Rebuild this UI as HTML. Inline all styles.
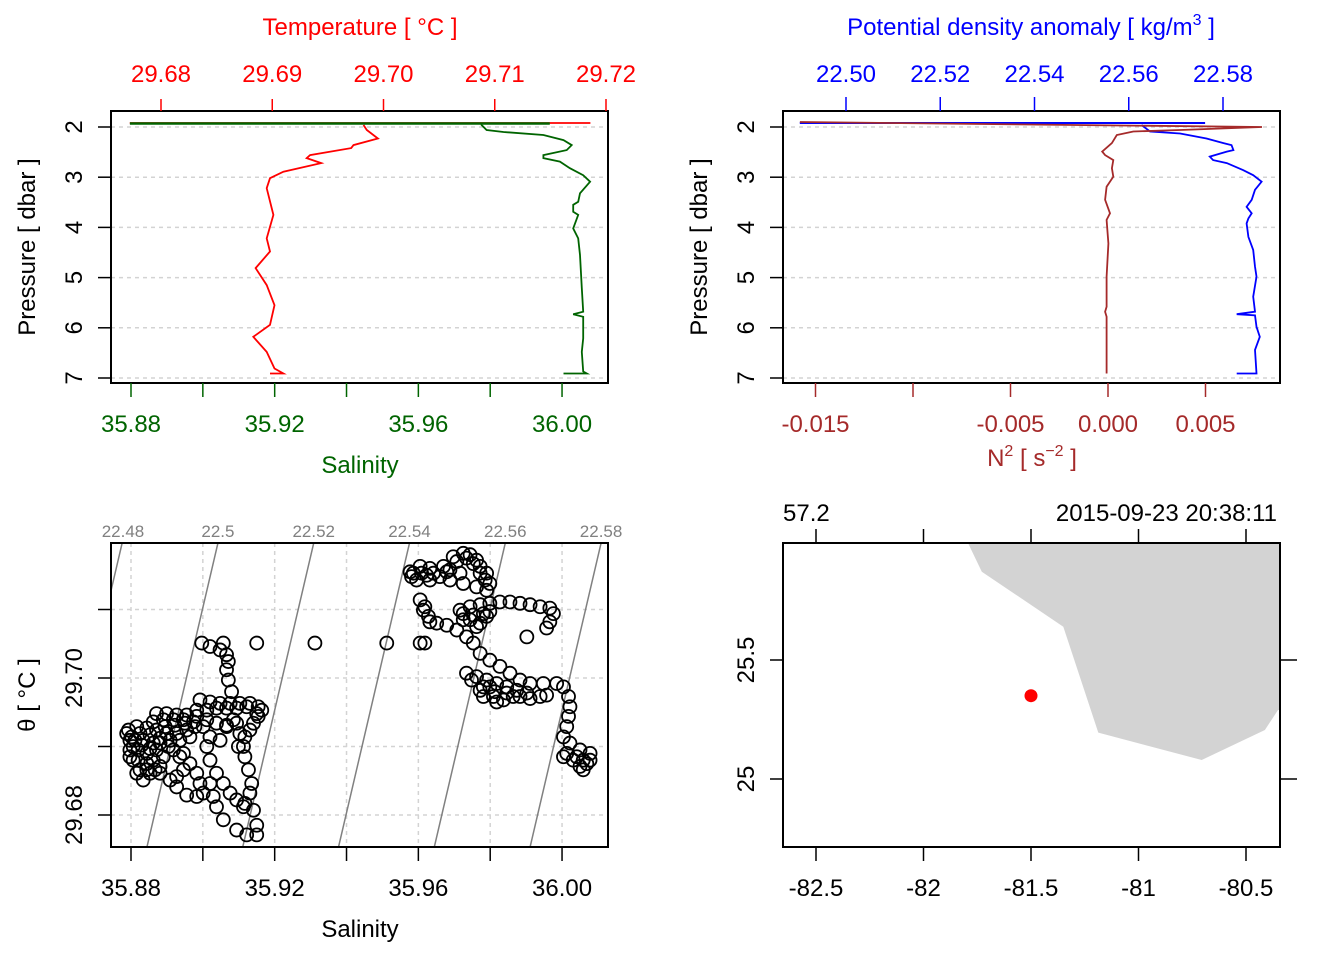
<!DOCTYPE html>
<html><head><meta charset="utf-8"><style>
html,body{margin:0;padding:0;background:#fff}
svg{display:block;font-family:"Liberation Sans",Arial,sans-serif}
</style></head><body>
<svg id="s" width="1344" height="960" viewBox="0 0 1344 960" xmlns="http://www.w3.org/2000/svg"></svg>
<script>
// ---------- data ----------
const tempP=[1.96,2.06,2.23,2.36,2.42,2.56,2.62,2.72,2.89,3.02,3.22,3.75,4.22,4.48,4.81,5.15,5.55,5.94,6.18,6.48,6.81,6.91,6.91];
const tempT=[29.6982,29.6985,29.6995,29.6973,29.6971,29.6934,29.6931,29.6944,29.6910,29.6898,29.6895,29.6901,29.6895,29.6898,29.6885,29.6895,29.6902,29.6898,29.6883,29.6895,29.6902,29.6910,29.6898];
const tempSurfT=[29.6772,29.7186];
const salP=[1.92,1.96,2.06,2.10,2.16,2.26,2.36,2.46,2.56,2.62,2.69,2.82,2.96,3.09,3.32,3.49,3.55,3.69,3.75,4.02,4.22,4.55,5.21,5.68,5.73,5.78,6.21,6.48,6.87,6.91,6.91];
const salS=[35.9776,35.9776,35.9790,35.9837,35.9948,36.0004,36.0027,36.0013,35.9948,35.9948,35.9994,36.0022,36.0059,36.0078,36.0050,36.0045,36.0031,36.0031,36.0045,36.0031,36.0045,36.0050,36.0055,36.0059,36.0031,36.0059,36.0059,36.0055,36.0059,36.0069,36.0004];
const salSurfS=[35.8797,35.9966];
const rhoP=[1.96,2.09,2.13,2.23,2.32,2.36,2.46,2.49,2.59,2.66,2.72,2.86,2.96,3.09,3.25,3.45,3.59,3.72,3.82,3.92,4.19,4.45,4.78,4.98,5.38,5.68,5.73,5.75,5.98,6.18,6.44,6.91,6.91];
const rhoD=[22.5627,22.5645,22.5709,22.5765,22.5801,22.5818,22.5822,22.5808,22.5772,22.5779,22.5808,22.5843,22.5864,22.5882,22.5868,22.5861,22.5850,22.5861,22.5854,22.5850,22.5854,22.5864,22.5868,22.5871,22.5864,22.5868,22.5829,22.5868,22.5871,22.5878,22.5868,22.5871,22.5829];
const rhoSurfD=[22.4902,22.5762];
const n2P=[1.90,2.00,2.06,2.09,2.16,2.32,2.49,2.56,2.66,2.82,2.99,3.19,3.45,3.72,3.85,4.32,4.98,5.58,5.68,5.78,6.91];
const n2N=[-0.0158,0.0079,0.0037,0.0013,0.00045,0.0002,-0.0003,-0.00015,0.00027,0.0002,0.00027,-0.00007,-0.00015,0.0001,-0.00007,0.00002,-0.00007,-0.00007,-0.00015,-0.00007,-0.00007];
const tsZX=[900,930,960,1000,1030,1060,1080,1100,1110,1130,1140,1130,1100,1060,1020,990,950,920,910,
930,945,955,980,1010,1040,1070,1090,1110,1140,1170,1200,1230,1260,1300,1340,1360,1375,1380,1375,1370,1360,1380,1410,1440,1430,1420,1390,1360,
1070,1100,1130,1160,1190,1220,1250,1290,1310,1110,1150,1180,1210,1140,
1050,1080,1110,1140,1170,1200,1230,1260,1290,1320,1330,1320,1310,1080,1110,1130,1060,
1250,945,930,830,615,440,340,
275,300,330,350,355,350,355,365,
270,300,330,360,390,420,445,455,445,430,420,405,400,405,415,425,420,405,
140,170,200,230,260,290,320,350,380,
55,80,110,140,170,200,230,60,60,70,90,100,120,150,160,190,210,220,200,180,75,100,130,110,140,85,
220,240,260,270,280,260,230,200,
290,300,320,340,360,380,400,
300,310,320,340,380,410,440,440,430,
280,300,330,350,370,390,385,
50,65,90,120,150,180,210,240,70,95,120,150,175,60,85,110,130,150,80,110,135,165,195,225,255,260,290,320,350,380,410,440,130,160,190,220,250,
905,935,970,1010,1040,1070,1090,1110,1125,1050,1020,960,1060,1090,1120,1140,1100,940,960,
1085,1120,1155,1190,1230,1260,1120,1160,1400,1420,1440,1410,1370];
const tsZY=[95,80,85,80,50,40,45,60,80,100,130,150,140,130,120,110,105,120,100,
180,200,230,250,255,270,290,310,340,360,380,400,420,430,430,430,440,470,500,530,560,590,610,630,640,670,690,660,650,
400,410,420,430,440,450,460,470,465,450,470,480,470,440,
210,200,195,190,185,185,190,195,200,205,220,245,265,240,250,230,220,
290,310,310,310,310,310,310,
310,320,330,345,365,390,420,455,
480,485,490,490,490,490,500,510,530,550,570,590,620,650,690,730,760,790,
520,520,525,525,530,540,550,555,550,
570,560,565,570,580,580,570,600,630,660,690,720,700,680,650,630,650,690,710,720,600,600,610,640,630,630,
640,670,700,730,760,770,765,740,
620,660,700,730,760,780,800,
730,770,800,840,870,885,885,855,810,
560,590,600,560,540,580,620,
580,590,580,585,595,600,600,590,620,615,625,610,620,650,660,670,660,700,700,690,690,560,555,550,560,510,510,505,505,505,500,520,545,540,540,540,545,
110,100,100,95,65,55,70,100,120,100,90,120,240,225,220,215,260,210,245,
420,440,455,460,470,475,470,485,650,660,660,680,640];
// convert the digitised reading grid to data units
const tsS=tsZX.map(z=>+(35.88+(z/3-21)/3592).toFixed(4));
const tsT=tsZY.map(z=>+(29.70-(z/3-138)/6850).toFixed(4));
const sigLevels=[22.48,22.50,22.52,22.54,22.56,22.58];
const coastLon=[-81.85,-81.792,-81.729,-81.350,-81.187,-80.706,-80.412,-80.351,-80.0,-80.0,-81.85];
const coastLat=[26.2,25.990,25.871,25.640,25.195,25.080,25.206,25.290,25.29,26.2,26.2];
const stnLon=[-81.5], stnLat=[25.35];

// ---------- helpers ----------
const S=document.getElementById('s'),NS='http://www.w3.org/2000/svg';
function mk(t,a,p){const e=document.createElementNS(NS,t);for(const k in a)e.setAttribute(k,a[k]);(p||S).appendChild(e);return e;}
function txt(x,y,s,a){const e=mk('text',Object.assign({x:x,y:y,'font-size':24,'text-anchor':'middle'},a||{}));e.textContent=s;return e;}
function rtxt(x,y,s,a){const e=txt(0,0,s,Object.assign({transform:`translate(${x},${y}) rotate(-90)`},a||{}));return e;}
function pts(xs,ys){return xs.map((v,i)=>xs[i].toFixed(1)+','+ys[i].toFixed(1)).join(' ');}
let e;

// ================= Panel 1: T & S profile =================
const pY=p=>127+(p-2)*50.2;
const sX=s=>131+(s-35.88)*3592;
const tX=t=>161+(t-29.68)*11125;
for(let p=2;p<=7;p++){e=mk('line',{x1:111,x2:608,y1:pY(p),y2:pY(p),stroke:'#d3d3d3','stroke-dasharray':'4,4','stroke-width':1.5});
}
e=mk('polyline',{points:pts([tX(tempSurfT[0]),tX(tempSurfT[1])],[pY(1.92),pY(1.92)]),fill:'none',stroke:'#f00','stroke-width':1.8});

e=mk('polyline',{points:pts(tempT.map(tX),tempP.map(pY)),fill:'none',stroke:'#f00','stroke-width':1.8});

e=mk('polyline',{points:pts([sX(salSurfS[0]),sX(salSurfS[1])],[pY(1.93),pY(1.93)]),fill:'none',stroke:'#006400','stroke-width':2.5});

e=mk('polyline',{points:pts(salS.map(sX),salP.map(pY)),fill:'none',stroke:'#006400','stroke-width':1.8});

e=mk('rect',{x:111,y:111,width:497,height:272,fill:'none',stroke:'#000','stroke-width':2});

for(let p=2;p<=7;p++){mk('line',{x1:98,x2:111,y1:pY(p),y2:pY(p),stroke:'#000','stroke-width':1.5});
e=rtxt(82,pY(p),String(p));}
e=rtxt(35,247,'Pressure [ dbar ]');
const tT=[29.68,29.69,29.70,29.71,29.72];
tT.forEach(t=>{mk('line',{x1:tX(t),x2:tX(t),y1:99,y2:111,stroke:'#f00','stroke-width':1.5});
e=txt(tX(t),82,t.toFixed(2),{fill:'#f00'});});
e=txt(360,35,'Temperature [ °C ]',{fill:'#f00'});
for(let i=0;i<=6;i++){const s=35.88+i*0.02;mk('line',{x1:sX(s),x2:sX(s),y1:383,y2:397,stroke:'#006400','stroke-width':1.5});
if(i%2==0){e=txt(sX(s),432,s.toFixed(2),{fill:'#006400'});}}
e=txt(360,473,'Salinity',{fill:'#006400'});

// ================= Panel 2: density & N2 =================
const dX=d=>846+(d-22.50)*4712.5;
const nX=n=>1108+n*19500;
for(let p=2;p<=7;p++){e=mk('line',{x1:783,x2:1280,y1:pY(p),y2:pY(p),stroke:'#d3d3d3','stroke-dasharray':'4,4','stroke-width':1.5});
}
e=mk('polyline',{points:pts([dX(rhoSurfD[0]),dX(rhoSurfD[1])],[pY(1.92),pY(1.92)]),fill:'none',stroke:'#00f','stroke-width':2});

e=mk('polyline',{points:pts(rhoD.map(dX),rhoP.map(pY)),fill:'none',stroke:'#00f','stroke-width':1.8});

e=mk('polyline',{points:pts(n2N.map(nX),n2P.map(pY)),fill:'none',stroke:'#a52a2a','stroke-width':1.8});

e=mk('rect',{x:783,y:111,width:497,height:272,fill:'none',stroke:'#000','stroke-width':2});

for(let p=2;p<=7;p++){mk('line',{x1:770,x2:783,y1:pY(p),y2:pY(p),stroke:'#000','stroke-width':1.5});
e=rtxt(754,pY(p),String(p));}
e=rtxt(707,247,'Pressure [ dbar ]');
[22.50,22.52,22.54,22.56,22.58].forEach(d=>{mk('line',{x1:dX(d),x2:dX(d),y1:97,y2:111,stroke:'#00f','stroke-width':1.5});
e=txt(dX(d),82,d.toFixed(2),{fill:'#00f'});});
e=txt(1031,35,'',{fill:'#00f'});e.innerHTML='Potential density anomaly [ kg/m<tspan font-size="16" dy="-10">3</tspan><tspan dy="10"> ]</tspan>';

[-0.015,-0.010,-0.005,0,0.005].forEach(n=>{mk('line',{x1:nX(n),x2:nX(n),y1:383,y2:397,stroke:'#a52a2a','stroke-width':1.5});
if(n!==-0.010){e=txt(nX(n),432,n.toFixed(3),{fill:'#a52a2a'});}});
e=txt(1032,466,'',{fill:'#a52a2a'});e.innerHTML='N<tspan font-size="16" dy="-10">2</tspan><tspan dy="10"> [ s</tspan><tspan font-size="16" dy="-10">−2</tspan><tspan dy="10"> ]</tspan>';


// ================= Panel 3: TS diagram =================
const tsX=s=>131+(s-35.88)*3592;
const tsY=t=>678-(t-29.70)*6850;
const cp=mk('clipPath',{id:'tsclip'});mk('rect',{x:111,y:543,width:497,height:304},cp);
const gts=mk('g',{'clip-path':'url(#tsclip)'});
for(let i=0;i<=6;i++){const s=35.88+i*0.02;mk('line',{x1:tsX(s),x2:tsX(s),y1:543,y2:847,stroke:'#d3d3d3','stroke-dasharray':'4,4','stroke-width':1.5},gts);}
[29.68,29.69,29.70,29.71].forEach(t=>mk('line',{x1:111,x2:608,y1:tsY(t),y2:tsY(t),stroke:'#d3d3d3','stroke-dasharray':'4,4','stroke-width':1.5},gts));
const Ttop=29.7197,Tbot=29.6753,S0=35.9042;
const sigS=(sig,T)=>S0+((sig-22.50)+0.334*(T-Ttop))/0.75;
sigLevels.forEach(sg=>{e=mk('line',{x1:tsX(sigS(sg,Ttop)),y1:tsY(Ttop),x2:tsX(sigS(sg,Tbot)),y2:tsY(Tbot),stroke:'#808080','stroke-width':1.5},gts);

const lx=Math.max(123,tsX(sigS(sg,Ttop)));
e=txt(lx,537,String(+sg.toFixed(2)),{'font-size':17,fill:'#808080'});});
tsS.forEach((s,i)=>{e=mk('circle',{cx:tsX(s),cy:tsY(tsT[i]),r:6.5,fill:'none',stroke:'#000','stroke-width':1.8},gts);
});
e=mk('rect',{x:111,y:543,width:497,height:304,fill:'none',stroke:'#000','stroke-width':2});

[29.68,29.69,29.70,29.71].forEach(t=>{mk('line',{x1:98,x2:111,y1:tsY(t),y2:tsY(t),stroke:'#000','stroke-width':1.5});
if(t===29.68||t===29.70){e=rtxt(82,tsY(t),t.toFixed(2));}});
e=rtxt(35,695,'θ [ °C ]');
for(let i=0;i<=6;i++){const s=35.88+i*0.02;mk('line',{x1:tsX(s),x2:tsX(s),y1:847,y2:861,stroke:'#000','stroke-width':1.5});
if(i%2==0){e=txt(tsX(s),896,s.toFixed(2));}}
e=txt(360,937,'Salinity');

// ================= Panel 4: map =================
const mX=l=>816+(l+82.5)*215;
const mY=l=>660-(l-25.5)*238;
const cp2=mk('clipPath',{id:'mapclip'});mk('rect',{x:783,y:543,width:497,height:304},cp2);
e=mk('polygon',{points:pts(coastLon.map(mX),coastLat.map(mY)),fill:'#d3d3d3',stroke:'none','clip-path':'url(#mapclip)'});

e=mk('circle',{cx:mX(stnLon[0]),cy:mY(stnLat[0]),r:6.5,fill:'#f00'});

e=mk('rect',{x:783,y:543,width:497,height:304,fill:'none',stroke:'#000','stroke-width':2});

[-82.5,-82,-81.5,-81,-80.5].forEach(l=>{mk('line',{x1:mX(l),x2:mX(l),y1:847,y2:861,stroke:'#000','stroke-width':1.5});
e=txt(mX(l),896,String(l));
mk('line',{x1:mX(l),x2:mX(l),y1:529,y2:543,stroke:'#000','stroke-width':1.5});});
[25,25.5].forEach(l=>{mk('line',{x1:770,x2:783,y1:mY(l),y2:mY(l),stroke:'#000','stroke-width':1.5});
mk('line',{x1:1280,x2:1297,y1:mY(l),y2:mY(l),stroke:'#000','stroke-width':1.5});
e=rtxt(754,mY(l),String(l));});
e=txt(783,521,'57.2',{'text-anchor':'start'});
e=txt(1277,521,'2015-09-23 20:38:11',{'text-anchor':'end'});
</script>
</body></html>
